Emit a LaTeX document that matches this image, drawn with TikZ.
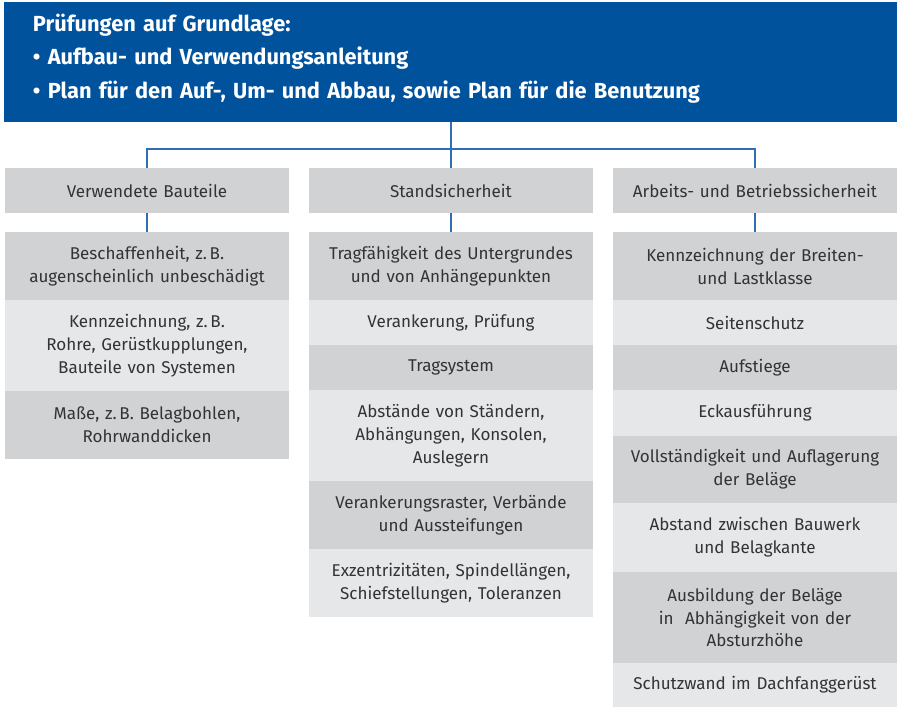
\documentclass[tikz,border=0pt]{standalone}
\usepackage{fontspec}
\setmainfont{Fira Sans}
\definecolor{hdrblue}{HTML}{00529C}
\definecolor{lineblue}{HTML}{2F6DB5}
\definecolor{gdark}{HTML}{D1D2D4}
\definecolor{glight}{HTML}{E6E7E8}
\definecolor{txt}{HTML}{333333}
\tikzset{
  cell/.style={inner sep=0pt, minimum width=284bp, text width=276bp, align=center,
    text=txt, font=\fontsize{17.1}{23}\selectfont},
  dk/.style={cell, fill=gdark},
  lt/.style={cell, fill=glight},
  conn/.style={draw=lineblue, line width=1.3bp},
}
\begin{document}
\begin{tikzpicture}[x=1bp,y=-1bp]
\useasboundingbox (0,0) rectangle (897,707);
\node[fill=hdrblue, minimum width=893bp, minimum height=120bp, inner sep=0pt,
  text width=835bp, align=left, text=white,
  font=\bfseries\fontsize{21.9}{33.5}\selectfont] (hdr) at (450.5,62)
  {Prüfungen auf Grundlage:\\
   • Aufbau- und Verwendungsanleitung\\
   • Plan für den Auf-, Um- und Abbau, sowie Plan für die Benutzung\rule[-12bp]{0pt}{1bp}};
% category boxes
\node[dk, minimum height=45bp] (c1) at (147,190.5) {Verwendete Bauteile};
\node[dk, minimum height=45bp] (c2) at (451,190.5) {Standsicherheit};
\node[dk, minimum height=45bp] (c3) at (755,190.5) {Arbeits- und Betriebssicherheit};
% column 1
\node[dk, minimum height=68bp] (a1) at (147,266) {Beschaffenheit, z.\,B.\\augenscheinlich unbeschädigt};
\node[lt, minimum height=91bp] (a2) at (147,345.5) {Kennzeichnung, z.\,B.\\Rohre, Gerüstkupplungen,\\Bauteile von Systemen};
\node[dk, minimum height=68bp] (a3) at (147,425) {Maße, z.\,B. Belagbohlen,\\Rohrwanddicken};
% column 2
\node[dk, minimum height=68bp] (s1) at (451,266) {Tragfähigkeit des Untergrundes\\und von Anhängepunkten};
\node[lt, minimum height=45bp] (s2) at (451,322.5) {Verankerung, Prüfung};
\node[dk, minimum height=45bp] (s3) at (451,367.5) {Tragsystem};
\node[lt, minimum height=91bp] (s4) at (451,435.5) {Abstände von Ständern,\\Abhängungen, Konsolen,\\Auslegern};
\node[dk, minimum height=68bp] (s5) at (451,515) {Verankerungsraster, Verbände\\und Aussteifungen};
\node[lt, minimum height=68bp] (s6) at (451,583) {Exzentrizitäten, Spindellängen,\\Schiefstellungen, Toleranzen};
% column 3
\node[dk, minimum height=68bp] (r1) at (755,266) {Kennzeichnung der Breiten-\\und Lastklasse};
\node[lt, minimum height=45bp] (r2) at (755,322.5) {Seitenschutz};
\node[dk, minimum height=45bp] (r3) at (755,367.5) {Aufstiege};
\node[lt, minimum height=46bp] (r4) at (755,413) {Eckausführung};
\node[dk, minimum height=67bp] (r5) at (755,469.5) {Vollständigkeit und Auflagerung\\der Beläge};
\node[lt, minimum height=69bp] (r6) at (755,537.5) {Abstand zwischen Bauwerk\\und Belagkante};
\node[dk, minimum height=91bp] (r7) at (755,617.5) {Ausbildung der Beläge\\in~ Abhängigkeit von der\\Absturzhöhe};
\node[lt, minimum height=44bp] (r8) at (755,685) {Schutzwand im Dachfanggerüst};
% connectors
\coordinate (j) at (451,149);
\draw[conn] (hdr.south -| c2.north) -- (c2.north);
\draw[conn] (c1.north) |- (j) -| (c3.north);
\draw[conn] (c1.south) -- (a1.north);
\draw[conn] (c2.south) -- (s1.north);
\draw[conn] (c3.south) -- (r1.north);
\end{tikzpicture}
\end{document}
